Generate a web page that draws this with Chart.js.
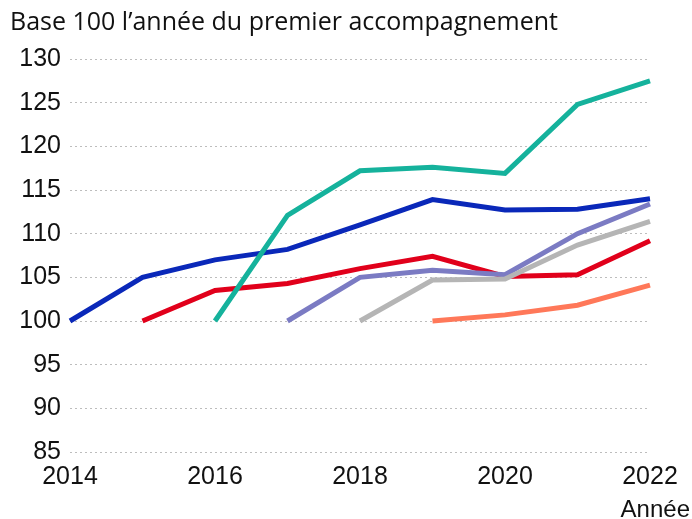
<!DOCTYPE html>
<html><head><meta charset="utf-8">
<script src="https://cdn.jsdelivr.net/npm/chart.js@4/dist/chart.umd.min.js"></script>
<style>html,body{margin:0;padding:0;background:#fff}#wrap{width:692px;height:519px}</style>
</head><body><div id="wrap"><canvas id="c" width="692" height="519"></canvas></div>
<script>
const years = ['2014','2015','2016','2017','2018','2019','2020','2021','2022'];
const yTicks = [85,90,95,100,105,110,115,120,125,130];
const titleText = "Base 100 l’année du premier accompagnement";
const xAxisTitle = "Année";
const s2014 = [100,105.0,107.0,108.2,111.0,113.9,112.7,112.8,114.0];
const s2015 = [null,100,103.5,104.3,106.0,107.4,105.1,105.3,109.2];
const s2016 = [null,null,100,112.1,117.2,117.6,116.9,124.8,127.5];
const s2017 = [null,null,null,100,105.0,105.8,105.3,110.0,113.4];
const s2018 = [null,null,null,null,100,104.7,104.8,108.7,111.4];
const s2019 = [null,null,null,null,null,100,100.7,101.8,104.1];

const series = [
  {name:'2014', data:s2014, color:'#0A28B9', order:6},
  {name:'2015', data:s2015, color:'#E1001B', order:5},
  {name:'2016', data:s2016, color:'#15B29C', order:4},
  {name:'2017', data:s2017, color:'#7B7BC3', order:3},
  {name:'2018', data:s2018, color:'#B5B5B5', order:2},
  {name:'2019', data:s2019, color:'#FF7859', order:1}
];

const textPlugin = {
  id:'texts',
  afterDraw(chart){
    const ctx = chart.ctx;
    ctx.save();
    ctx.fillStyle = '#111';
    ctx.textBaseline = 'alphabetic';
    ctx.textAlign = 'left';
    ctx.font = '25px "Open Sans"';
    ctx.fillText(titleText, 10, 30);
    ctx.textAlign = 'right';
    ctx.font = '24px "Liberation Sans"';
    ctx.fillText(xAxisTitle, 690, 517);
    ctx.restore();
  }
};

new Chart(document.getElementById('c'), {
  type:'line',
  data:{
    labels: years,
    datasets: series.map(s=>({
      label:s.name, data:s.data, borderColor:s.color, backgroundColor:s.color,
      borderWidth:5, pointRadius:0, tension:0, spanGaps:false, order:s.order,
      borderCapStyle:'butt', borderJoinStyle:'miter'
    }))
  },
  options:{
    responsive:false, animation:false, devicePixelRatio:1,
    layout:{padding:{top:59,right:42,left:0,bottom:0}},
    plugins:{legend:{display:false}, tooltip:{enabled:false}, title:{display:false}},
    scales:{
      x:{
        type:'category', offset:false,
        grid:{display:false, drawTicks:false},
        border:{display:false},
        ticks:{autoSkip:false, maxRotation:0, padding:10, color:'#111',
          font:{family:'"Liberation Sans"', size:25},
          callback:function(v,i){ return i%2===0 ? years[i] : ''; }},
        afterFit(scale){ scale.height = 67; }
      },
      y:{
        min:85, max:130,
        afterBuildTicks(scale){ scale.ticks = yTicks.map(v=>({value:v})); },
        grid:{color:'#BDBDBD', lineWidth:1, drawTicks:false},
        border:{display:false, dash:[2,3]},
        ticks:{padding:9, color:'#111', font:{family:'"Liberation Sans"', size:25}},
        afterFit(scale){ scale.width = 70; }
      }
    }
  },
  plugins:[textPlugin]
});
</script></body></html>
